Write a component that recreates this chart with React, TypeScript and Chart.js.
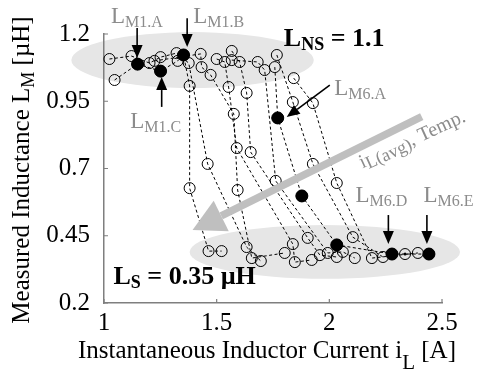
import React, { useEffect, useRef } from "react";
import { Chart, registerables } from "chart.js";

Chart.register(...registerables);

// ---- axis ticks ----
const xTicks = [1, 1.5, 2, 2.5];
const yTicks = [0.2, 0.45, 0.7, 0.95, 1.2];

// ---- measured curves (instantaneous current [A], inductance [uH]) ----
const c1x = [1.047, 1.149, 1.251, 1.327, 1.353, 1.38, 1.38, 1.464, 1.522];
const c1y = [1.029, 1.088, 1.062, 1.1, 1.122, 1.007, 0.627, 0.393, 0.393];
const c2x = [1.024, 1.122, 1.202, 1.251, 1.322, 1.376, 1.46, 1.633, 1.696];
const c2y = [1.107, 1.118, 1.092, 1.114, 1.129, 1.092, 0.717, 0.408, 0.356];
const c3x = [1.224, 1.429, 1.433, 1.473, 1.576, 1.593, 1.656, 1.802];
const c3y = [1.1, 1.126, 1.077, 1.048, 0.903, 0.62, 0.367, 0.386];
const c4x = [1.5, 1.536, 1.553, 1.589, 1.838, 1.847, 1.922];
const c4y = [1.107, 1.096, 1.003, 0.776, 0.419, 0.352, 0.36];
const c5x = [1.567, 1.602, 1.633, 1.651, 1.904, 1.958, 2.033];
const c5y = [1.137, 1.096, 0.981, 0.761, 0.442, 0.378, 0.371];
const c6x = [1.567, 1.682, 1.713, 1.762, 1.993, 2.06, 2.113];
const c6y = [1.103, 1.096, 1.066, 0.654, 0.386, 0.39, 0.367];
const c7x = [1.758, 1.771, 1.878, 2.033, 2.278, 2.336, 2.442];
const c7y = [1.077, 0.888, 0.598, 0.416, 0.382, 0.382, 0.382];
const c8x = [1.767, 1.838, 1.927, 2.104, 2.238];
const c8y = [1.122, 0.947, 0.717, 0.445, 0.371];
const c9x = [1.842, 1.927, 2.033, 2.189, 2.393];
const c9y = [1.036, 0.943, 0.646, 0.367, 0.386];

// highlighted (filled) samples: L_M1.A, L_M1.C, L_M1.B, L_M6.A, L_M6.B, L_M6.C, L_M6.D, L_M6.E
const filledX = [1.149, 1.251, 1.353, 1.771, 1.878, 2.033, 2.278, 2.442];
const filledY = [1.088, 1.062, 1.122, 0.888, 0.598, 0.416, 0.382, 0.382];
const dotX = [2.336];
const dotY = [0.382];

const curvesX = [c1x, c2x, c3x, c4x, c5x, c6x, c7x, c8x, c9x];
const curvesY = [c1y, c2y, c3y, c4y, c5y, c6y, c7y, c8y, c9y];

const SERIF = "'Liberation Serif', 'Times New Roman', serif";
const GREY_TXT = "#8c8c8c";

function font(size: number, bold = false) {
  return `${bold ? "bold " : ""}${size}px ${SERIF}`;
}

function drawSub(
  ctx: CanvasRenderingContext2D,
  x: number,
  y: number,
  main: string,
  sub: string,
  rest: string,
  size: number,
  subSize: number,
  drop: number,
  bold: boolean
) {
  ctx.font = font(size, bold);
  ctx.fillText(main, x, y);
  let w = ctx.measureText(main).width;
  ctx.font = font(subSize, bold);
  ctx.fillText(sub, x + w, y + drop);
  w += ctx.measureText(sub).width;
  if (rest) {
    ctx.font = font(size, bold);
    ctx.fillText(rest, x + w, y);
    w += ctx.measureText(rest).width;
  }
  return w;
}

function subWidth(ctx: CanvasRenderingContext2D, main: string, sub: string, rest: string, size: number, subSize: number, bold = false) {
  ctx.font = font(size, bold);
  let w = ctx.measureText(main).width + ctx.measureText(rest).width;
  ctx.font = font(subSize, bold);
  w += ctx.measureText(sub).width;
  return w;
}

function blackArrow(ctx: CanvasRenderingContext2D, x0: number, y0: number, x1: number, y1: number) {
  const ang = Math.atan2(y1 - y0, x1 - x0);
  const L = 13, W = 5.5;
  const bx = x1 - L * Math.cos(ang), by = y1 - L * Math.sin(ang);
  ctx.strokeStyle = "#000";
  ctx.lineWidth = 1.6;
  ctx.beginPath();
  ctx.moveTo(x0, y0);
  ctx.lineTo(bx, by);
  ctx.stroke();
  ctx.fillStyle = "#000";
  ctx.beginPath();
  ctx.moveTo(x1, y1);
  ctx.lineTo(bx + W * Math.sin(ang), by - W * Math.cos(ang));
  ctx.lineTo(bx - W * Math.sin(ang), by + W * Math.cos(ang));
  ctx.closePath();
  ctx.fill();
}

const decoPlugin = {
  id: "deco",
  beforeDraw(chart: any) {
    const { ctx, scales } = chart;
    const xs = scales.x, ys = scales.y;
    const P = (a: number) => xs.getPixelForValue(a);
    const Q = (b: number) => ys.getPixelForValue(b);
    ctx.save();
    ctx.fillStyle = "#e6e6e6";
    const ell = [
      [1.393, 1.103, 0.538, 0.104],
      [1.98, 0.39, 0.6, 0.1],
    ];
    for (const [cx, cy, rx, ry] of ell) {
      ctx.beginPath();
      ctx.ellipse(P(cx), Q(cy), P(cx + rx) - P(cx), Q(cy - ry) - Q(cy), 0, 0, Math.PI * 2);
      ctx.fill();
    }
    ctx.restore();
  },
  afterDatasetsDraw(chart: any) {
    const { ctx, scales } = chart;
    const xs = scales.x, ys = scales.y;
    const P = (a: number) => xs.getPixelForValue(a);
    const Q = (b: number) => ys.getPixelForValue(b);
    ctx.save();
    // big grey arrow
    const tx = P(2.41), ty = Q(0.893);
    const hx = P(1.393), hy = Q(0.471);
    const ang = Math.atan2(hy - ty, hx - tx);
    const L = 32, W = 17;
    const bx = hx - L * Math.cos(ang), by = hy - L * Math.sin(ang);
    ctx.strokeStyle = "#bfbfbf";
    ctx.fillStyle = "#bfbfbf";
    ctx.lineWidth = 7.5;
    ctx.lineCap = "butt";
    ctx.beginPath();
    ctx.moveTo(tx, ty);
    ctx.lineTo(bx, by);
    ctx.stroke();
    ctx.beginPath();
    ctx.moveTo(hx, hy);
    ctx.lineTo(bx + W * Math.sin(ang), by - W * Math.cos(ang));
    ctx.lineTo(bx - W * Math.sin(ang), by + W * Math.cos(ang));
    ctx.closePath();
    ctx.fill();
    // rotated grey text
    ctx.translate(P(2.147), Q(0.7));
    ctx.rotate((-24.5 * Math.PI) / 180);
    ctx.fillStyle = GREY_TXT;
    ctx.textBaseline = "alphabetic";
    ctx.textAlign = "left";
    drawSub(ctx, 0, 0, "i", "L(avg)", ", Temp.", 20, 18, 3, false);
    ctx.restore();
  },
  afterDraw(chart: any) {
    const { ctx, scales, chartArea } = chart;
    const xs = scales.x, ys = scales.y;
    const P = (a: number) => xs.getPixelForValue(a);
    const Q = (b: number) => ys.getPixelForValue(b);
    ctx.save();
    // inward tick marks
    ctx.strokeStyle = "#7f7f7f";
    ctx.lineWidth = 1.2;
    ctx.beginPath();
    for (const v of xTicks) {
      const px = P(v);
      ctx.moveTo(px, chartArea.bottom);
      ctx.lineTo(px, chartArea.bottom - 4);
    }
    for (const v of yTicks) {
      const py = Q(v);
      ctx.moveTo(chartArea.left, py);
      ctx.lineTo(chartArea.left + 4, py);
    }
    ctx.stroke();

    ctx.textBaseline = "alphabetic";
    ctx.textAlign = "left";
    // grey sample labels
    ctx.fillStyle = GREY_TXT;
    const labels: [string, number, number][] = [
      ["M1.A", 1.031, 1.241],
      ["M1.B", 1.396, 1.241],
      ["M1.C", 1.116, 0.851],
      ["M6.A", 2.022, 0.973],
      ["M6.D", 2.116, 0.575],
      ["M6.E", 2.418, 0.575],
    ];
    for (const [s, a, b] of labels) {
      drawSub(ctx, P(a), Q(b), "L", s, "", 23, 16, 4, false);
    }
    // black arrows
    const arrows = [
      [1.147, 1.222, 1.147, 1.111],
      [1.369, 1.259, 1.369, 1.152],
      [1.256, 0.929, 1.256, 1.04],
      [2.002, 1.01, 1.811, 0.891],
      [2.262, 0.527, 2.262, 0.419],
      [2.433, 0.527, 2.433, 0.419],
    ];
    for (const [a0, b0, a1, b1] of arrows) blackArrow(ctx, P(a0), Q(b0), P(a1), Q(b1));

    // bold annotations
    ctx.fillStyle = "#000";
    drawSub(ctx, P(1.798), Q(1.155), "L", "NS", " = 1.1", 26, 18, 4, true);
    drawSub(ctx, P(1.042), Q(0.271), "L", "S", " = 0.35 \u00b5H", 26, 18, 4, true);

    // x axis title
    const xt1 = "Instantaneous Inductor Current i";
    const xw = subWidth(ctx, xt1, "L", " [A]", 25, 21);
    drawSub(ctx, 267 - xw / 2, 358, xt1, "L", " [A]", 25, 21, 11, false);

    // y axis title
    ctx.translate(29, 170);
    ctx.rotate(-Math.PI / 2);
    const yt1 = "Measured Inductance L";
    const yw = subWidth(ctx, yt1, "M", " [\u00b5H]", 25, 18);
    drawSub(ctx, -yw / 2, 0, yt1, "M", " [\u00b5H]", 25, 18, 5, false);
    ctx.restore();
  },
};

export default function App() {
  const ref = useRef<HTMLCanvasElement | null>(null);
  useEffect(() => {
    if (!ref.current) return;
    const datasets: any[] = curvesX.map((xsArr, k) => ({
      data: xsArr.map((v, i) => ({ x: v, y: curvesY[k][i] })),
      showLine: true,
      borderColor: "#000",
      borderWidth: 1,
      borderDash: [3, 2.5],
      tension: 0,
      pointRadius: 5.5,
      pointBorderWidth: 1,
      pointBorderColor: "#000",
      pointBackgroundColor: "rgba(255,255,255,0)",
      clip: false,
    }));
    datasets.push({
      data: filledX.map((v, i) => ({ x: v, y: filledY[i] })),
      showLine: false,
      pointRadius: 6,
      pointBorderWidth: 1,
      pointBorderColor: "#000",
      pointBackgroundColor: "#000",
      clip: false,
    });
    datasets.push({
      data: dotX.map((v, i) => ({ x: v, y: dotY[i] })),
      showLine: false,
      pointRadius: 1.5,
      pointBorderWidth: 0,
      pointBackgroundColor: "#000",
      clip: false,
    });
    const chart = new Chart(ref.current, {
      type: "scatter",
      data: { datasets },
      options: {
        animation: false,
        responsive: false,
        devicePixelRatio: 1,
        events: [],
        layout: { padding: { top: 34, right: 37, left: 0, bottom: 0 } },
        plugins: { legend: { display: false }, tooltip: { enabled: false } },
        scales: {
          x: {
            type: "linear",
            min: 1,
            max: 2.5,
            afterBuildTicks: (s: any) => {
              s.ticks = xTicks.map((v) => ({ value: v }));
            },
            afterFit: (s: any) => {
              s.height = 71;
            },
            grid: { display: false },
            border: { display: true, color: "#7f7f7f", width: 1.5 },
            ticks: {
              font: { family: SERIF, size: 25 },
              color: "#000",
              padding: -3,
              maxRotation: 0,
              autoSkip: false,
              callback: (v: any) => String(v),
            },
          },
          y: {
            type: "linear",
            min: 0.2,
            max: 1.2,
            afterBuildTicks: (s: any) => {
              s.ticks = yTicks.map((v) => ({ value: v }));
            },
            afterFit: (s: any) => {
              s.width = 104;
            },
            grid: { display: false },
            border: { display: true, color: "#7f7f7f", width: 1.5 },
            ticks: {
              font: { family: SERIF, size: 25 },
              color: "#000",
              padding: 6,
              autoSkip: false,
              callback: (v: any) => String(v),
            },
          },
        },
      },
      plugins: [decoPlugin],
    } as any);
    return () => chart.destroy();
  }, []);
  return (
    <canvas
      ref={ref}
      width={479}
      height={374}
      style={{ position: "absolute", left: 0, top: 0, width: 479, height: 374 }}
    />
  );
}
